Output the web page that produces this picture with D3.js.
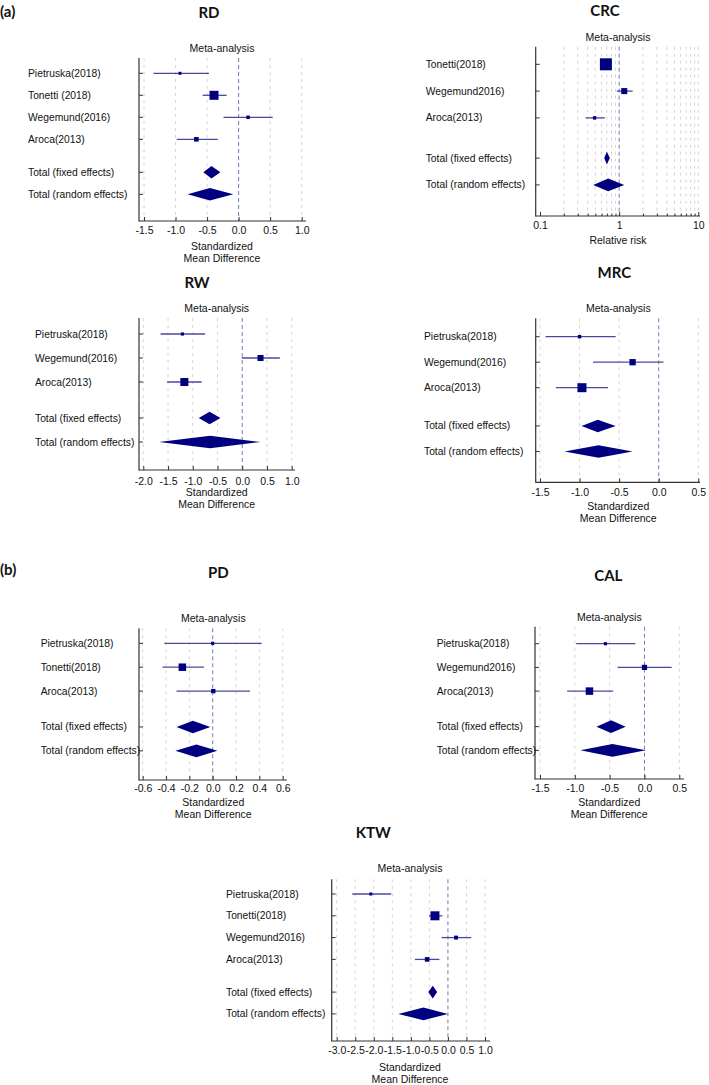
<!DOCTYPE html>
<html><head><meta charset="utf-8">
<script src="https://cdnjs.cloudflare.com/ajax/libs/d3/7.8.5/d3.min.js"></script>
<style>body{margin:0;background:#fff}</style>
</head><body><svg id="c" width="709" height="1085"></svg>
<script>
// ---------------- DATA ----------------
const sumLabels = ["Total (fixed effects)", "Total (random effects)"];

const rdStudies = ["Pietruska(2018)", "Tonetti (2018)", "Wegemund(2016)", "Aroca(2013)"];
const rdEst  = [-0.93, -0.39, 0.15, -0.67];
const rdLow  = [-1.35, -0.57, -0.24, -0.98];
const rdHigh = [-0.47, -0.19, 0.54, -0.33];
const rdWeight = [7, 66, 10, 17];
const rdFixed  = [-0.56, -0.43, -0.29];
const rdRandom = [-0.81, -0.455, -0.085];
const rdTicks = [-1.5, -1.0, -0.5, 0.0, 0.5, 1.0];

const crcStudies = ["Tonetti(2018)", "Wegemund2016)", "Aroca(2013)"];
const crcEst  = [0.68, 1.16, 0.49];
const crcLow  = [0.62, 0.935, 0.377];
const crcHigh = [0.76, 1.48, 0.66];
const crcWeight = [75, 19, 6];
const crcFixed  = [0.647, 0.70, 0.763];
const crcRandom = [0.47, 0.726, 1.16];
const crcTicks = [0.1, 0.2, 0.3, 0.4, 0.5, 0.6, 0.7, 0.8, 0.9, 1, 2, 3, 4, 5, 6, 7, 8, 9, 10];
const crcTickLabels = [0.1, 1, 10];

const rwStudies = ["Pietruska(2018)", "Wegemund(2016)", "Aroca(2013)"];
const rwEst  = [-1.21, 0.37, -1.17];
const rwLow  = [-1.65, -0.01, -1.52];
const rwHigh = [-0.75, 0.76, -0.82];
const rwWeight = [9, 33, 58];
const rwFixed  = [-0.88, -0.66, -0.44];
const rwRandom = [-1.68, -0.65, 0.37];
const rwTicks = [-2.0, -1.5, -1.0, -0.5, 0.0, 0.5, 1.0];

const mrcStudies = ["Pietruska(2018)", "Wegemund(2016)", "Aroca(2013)"];
const mrcEst  = [-1.0, -0.33, -0.97];
const mrcLow  = [-1.43, -0.83, -1.30];
const mrcHigh = [-0.544, 0.06, -0.64];
const mrcWeight = [9, 30, 61];
const mrcFixed  = [-0.975, -0.77, -0.544];
const mrcRandom = [-1.19, -0.76, -0.33];
const mrcTicks = [-1.5, -1.0, -0.5, 0.0, 0.5];

const pdStudies = ["Pietruska(2018)", "Tonetti(2018)", "Aroca(2013)"];
const pdEst  = [0.0, -0.26, 0.005];
const pdLow  = [-0.415, -0.43, -0.31];
const pdHigh = [0.42, -0.075, 0.32];
const pdWeight = [12, 66, 22];
const pdFixed  = [-0.31, -0.17, -0.02];
const pdRandom = [-0.32, -0.14, 0.04];
const pdTicks = [-0.6, -0.4, -0.2, 0.0, 0.2, 0.4, 0.6];

const calStudies = ["Pietruska(2018)", "Wegemund2016)", "Aroca(2013)"];
const calEst  = [-0.56, 0.0, -0.79];
const calLow  = [-0.98, -0.386, -1.11];
const calHigh = [-0.13, 0.39, -0.45];
const calWeight = [11, 29, 60];
const calFixed  = [-0.69, -0.48, -0.27];
const calRandom = [-0.92, -0.46, 0.02];
const calTicks = [-1.5, -1.0, -0.5, 0.0, 0.5];

const ktwStudies = ["Pietruska(2018)", "Tonetti(2018)", "Wegemund2016)", "Aroca(2013)"];
const ktwEst  = [-2.08, -0.35, 0.22, -0.56];
const ktwLow  = [-2.58, -0.51, -0.17, -0.89];
const ktwHigh = [-1.53, -0.15, 0.63, -0.23];
const ktwWeight = [7, 64, 12, 17];
const ktwFixed  = [-0.53, -0.41, -0.29];
const ktwRandom = [-1.34, -0.66, 0.0];
const ktwTicks = [-3.0, -2.5, -2.0, -1.5, -1.0, -0.5, 0.0, 0.5, 1.0];

// ---------------- DRAWING ----------------
const svg = d3.select("#c");
const NAVY = "#000080", CI = "#4a4a9c", AXIS = "#333", GRID = "#d4d4d4", REF = "#7878b8";
const FONT = "'Liberation Sans', Arial, sans-serif";
const TFONT = "Lato, 'Open Sans', sans-serif";

function txt(g, x, y, s, size, anchor, weight, font) {
  return g.append("text").attr("x", x).attr("y", y).text(s)
    .attr("font-family", font || FONT).attr("font-size", size)
    .attr("font-weight", weight || "normal").attr("text-anchor", anchor || "start")
    .attr("dominant-baseline", "central").attr("fill", "#111");
}

function forest(p) {
  const g = svg.append("g");
  const x = (p.log ? d3.scaleLog() : d3.scaleLinear()).domain(p.domain).range(p.range);
  const y = d3.scaleLinear().domain([0, 1]).range([p.y0, p.y0 + p.dy]);
  const n = p.studies.length;
  const size = d3.scaleSqrt().domain([0, d3.max(p.weight)]).range([0, p.maxSide]);

  // gridlines
  p.grid.forEach(v => {
    g.append("line").attr("x1", x(v)).attr("x2", x(v)).attr("y1", p.top).attr("y2", p.bottom)
      .attr("stroke", v === p.ref ? REF : GRID).attr("stroke-width", 1)
      .attr("stroke-dasharray", v === p.ref ? "4,3" : "3,4");
  });

  // axis lines
  g.append("line").attr("x1", p.ax).attr("x2", p.ax).attr("y1", p.top).attr("y2", p.bottom + 0.5)
    .attr("stroke", AXIS).attr("stroke-width", 1.2);
  g.append("line").attr("x1", p.ax).attr("x2", p.xEnd).attr("y1", p.bottom).attr("y2", p.bottom)
    .attr("stroke", AXIS).attr("stroke-width", 1.2);

  const rows = p.studies.map((s, i) => i).concat([n + 0.5, n + 1.5]);
  rows.forEach(r => {
    g.append("line").attr("x1", p.ax).attr("x2", p.ax + 4).attr("y1", y(r)).attr("y2", y(r))
      .attr("stroke", AXIS).attr("stroke-width", 1);
  });

  // labels
  p.studies.forEach((s, i) => txt(g, p.labelX, y(i), s, 10.3));
  sumLabels.forEach((s, i) => txt(g, p.labelX, y(n + 0.5 + i), s, 10.3));

  // CI lines and squares
  p.studies.forEach((s, i) => {
    g.append("line").attr("x1", x(p.low[i])).attr("x2", x(p.high[i]))
      .attr("y1", y(i)).attr("y2", y(i)).attr("stroke", CI).attr("stroke-width", 1.3);
    const sd = Math.max(3, size(p.weight[i]));
    g.append("rect").attr("x", x(p.est[i]) - sd / 2).attr("y", y(i) - sd / 2)
      .attr("width", sd).attr("height", sd).attr("fill", NAVY);
  });

  // diamonds
  [p.fixed, p.random].forEach((d, k) => {
    const yy = y(n + 0.5 + k), h = 6.3;
    g.append("path").attr("d",
      `M${x(d[0])},${yy} L${x(d[1])},${yy - h} L${x(d[2])},${yy} L${x(d[1])},${yy + h} Z`)
      .attr("fill", NAVY);
  });

  // x axis
  const fmt = p.log ? (v => p.tickLabels.includes(v) ? String(v) : "") : (v => v.toFixed(1));
  const axis = d3.axisBottom(x).tickValues(p.ticks).tickFormat(fmt)
    .tickSizeInner(-4).tickSizeOuter(0).tickPadding(0);
  const ag = g.append("g").attr("transform", `translate(0,${p.bottom})`).call(axis);
  ag.select(".domain").remove();
  ag.selectAll(".tick line").attr("stroke", AXIS).attr("stroke-width", 1)
    .attr("y2", p.log ? (d => p.tickLabels.includes(d) ? -4 : -2.5) : -4);
  ag.selectAll(".tick text").attr("y", p.tickLabY - p.bottom).attr("dy", null)
    .attr("dominant-baseline", "central")
    .attr("font-family", FONT).attr("font-size", 10.5).attr("fill", "#111");

  // titles
  txt(g, p.title[0], p.title[1], p.name, 15, "middle", "bold", TFONT);
  txt(g, p.meta[0], p.meta[1], "Meta-analysis", 10.5, "middle");
  p.xtitle.forEach((s, i) => txt(g, p.meta[0], p.xtitleY[i], s, 10.5, "middle"));
}

const smd = ["Standardized", "Mean Difference"];

forest({name: "RD", studies: rdStudies, est: rdEst, low: rdLow, high: rdHigh, weight: rdWeight,
  fixed: rdFixed, random: rdRandom, ticks: rdTicks, grid: rdTicks, ref: 0, domain: [-1.5, 1.0],
  range: [144, 301.7], ax: 139, xEnd: 306, top: 58, bottom: 221, y0: 73.3, dy: 22, labelX: 28,
  title: [209, 12], meta: [222, 48], tickLabY: 230, xtitle: smd, xtitleY: [246, 258], maxSide: 9});

forest({name: "CRC", log: true, studies: crcStudies, est: crcEst, low: crcLow, high: crcHigh, weight: crcWeight,
  fixed: crcFixed, random: crcRandom, ticks: crcTicks, tickLabels: crcTickLabels,
  grid: crcTicks.filter(v => v > 0.1), ref: 1, domain: [0.1, 10],
  range: [540, 698.3], ax: 535.7, xEnd: 700, top: 46.7, bottom: 216, y0: 64.3, dy: 26.8, labelX: 425.7,
  title: [605, 9.5], meta: [618, 36.7], tickLabY: 225, xtitle: ["Relative risk"], xtitleY: [240], maxSide: 12});

forest({name: "RW", studies: rwStudies, est: rwEst, low: rwLow, high: rwHigh, weight: rwWeight,
  fixed: rwFixed, random: rwRandom, ticks: rwTicks, grid: rwTicks, ref: 0, domain: [-2.0, 1.0],
  range: [143.3, 291.7], ax: 139, xEnd: 295, top: 318, bottom: 470, y0: 334, dy: 24, labelX: 35,
  title: [197, 281.7], meta: [216.7, 307.7], tickLabY: 480.5, xtitle: smd, xtitleY: [492, 504], maxSide: 8});

forest({name: "MRC", studies: mrcStudies, est: mrcEst, low: mrcLow, high: mrcHigh, weight: mrcWeight,
  fixed: mrcFixed, random: mrcRandom, ticks: mrcTicks, grid: mrcTicks, ref: 0, domain: [-1.5, 0.5],
  range: [540, 698.3], ax: 535.7, xEnd: 700, top: 318.3, bottom: 482.3, y0: 336.7, dy: 25.5, labelX: 424,
  title: [614.3, 271.7], meta: [618.3, 308.3], tickLabY: 491.7, xtitle: smd, xtitleY: [506, 518], maxSide: 9});

forest({name: "PD", studies: pdStudies, est: pdEst, low: pdLow, high: pdHigh, weight: pdWeight,
  fixed: pdFixed, random: pdRandom, ticks: pdTicks, grid: pdTicks, ref: 0, domain: [-0.6, 0.6],
  range: [142.7, 282.7], ax: 139, xEnd: 287, top: 628.3, bottom: 780, y0: 643.3, dy: 23.9, labelX: 40.7,
  title: [218.3, 571.7], meta: [213.3, 617.7], tickLabY: 787.7, xtitle: smd, xtitleY: [802.3, 814.3], maxSide: 7.5});

forest({name: "CAL", studies: calStudies, est: calEst, low: calLow, high: calHigh, weight: calWeight,
  fixed: calFixed, random: calRandom, ticks: calTicks, grid: calTicks, ref: 0, domain: [-1.5, 0.5],
  range: [540, 679.3], ax: 535, xEnd: 684, top: 626.7, bottom: 779, y0: 643.7, dy: 23.7, labelX: 436.7,
  title: [608.3, 575], meta: [609.3, 617.3], tickLabY: 788.3, xtitle: smd, xtitleY: [802.3, 814.3], maxSide: 7.5});

forest({name: "KTW", studies: ktwStudies, est: ktwEst, low: ktwLow, high: ktwHigh, weight: ktwWeight,
  fixed: ktwFixed, random: ktwRandom, ticks: ktwTicks, grid: ktwTicks, ref: 0, domain: [-3.0, 1.0],
  range: [336.7, 485], ax: 331.7, xEnd: 490, top: 879.3, bottom: 1041, y0: 894, dy: 21.8, labelX: 226,
  title: [373.3, 831.7], meta: [410, 868.3], tickLabY: 1050, xtitle: smd, xtitleY: [1066.7, 1079.3], maxSide: 9});

txt(svg, 0, 11, "(a)", 15, "start", "bold", TFONT);
txt(svg, 0, 569, "(b)", 15, "start", "bold", TFONT);
</script>
</body></html>
